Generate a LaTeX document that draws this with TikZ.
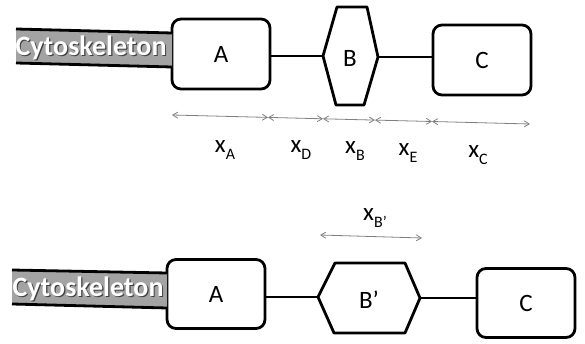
\documentclass[tikz,border=0pt]{standalone}
\usepackage{fontspec}
\setmainfont{Carlito}
\usetikzlibrary{arrows.meta}
% variable with a lowered subscript, e.g. \varsub{x}{A}
\newcommand\varsub[2]{#1\raisebox{-0.55ex}{\fontsize{16}{16}\selectfont #2}}
\begin{document}
\begin{tikzpicture}[x=1pt,y=-1pt,
  box/.style={draw, line width=2.8pt, rounded corners=9pt, fill=white,
    minimum width=98pt, minimum height=70pt, inner sep=0pt,
    font=\fontsize{25}{28}\selectfont},
  link/.style={line width=2.8pt},
  hexa/.style={draw, line width=2.8pt, fill=white, line join=round},
  barfill/.style={fill=black!36},
  barline/.style={line width=2.8pt},
  cytotext/.style={font=\fontsize{28}{30}\selectfont\bfseries, text=white, inner sep=0pt},
  cytoshadow/.style={font=\fontsize{28}{30}\selectfont\bfseries, text=black!75, inner sep=0pt},
  dim/.style={draw=black!50, line width=0.8pt,
    {Straight Barb[length=5pt,width=6pt]}-{Straight Barb[length=5pt,width=6pt]}},
  lab/.style={font=\fontsize{25}{28}\selectfont, inner sep=0pt},
  txt/.style={font=\fontsize{25}{28}\selectfont, inner sep=0pt}
]
\useasboundingbox (0,0) rectangle (585,344);

% ---------------- upper chain ----------------
\node[box] (A1) at (221,54) {A};
\node[box, minimum height=70pt] (C1) at (482,60) {C};

% hexagon B
\coordinate (B1w)  at (323,56);
\coordinate (B1nw) at (337,7);
\coordinate (B1ne) at (367,7);
\coordinate (B1e)  at (378,57);
\coordinate (B1se) at (364,105);
\coordinate (B1sw) at (336,105);
\draw[hexa] (B1w) -- (B1nw) -- (B1ne) -- (B1e) -- (B1se) -- (B1sw) -- cycle;
\node[txt] (B1) at (350,58) {B};

% cytoskeleton bar
\coordinate (S1tl) at (16,29);
\coordinate (S1tr) at (172,33);
\coordinate (S1br) at (172,67);
\coordinate (S1bl) at (16,63);
\fill[barfill] (S1tl) -- (S1tr) -- (S1br) -- (S1bl) -- cycle;
\draw[barline] (S1tl) -- (S1tr);
\draw[barline] (S1bl) -- (S1br);
\node[cytoshadow] (S1s) at (92.2,49.2) {Cytoskeleton};
\node[cytotext] (S1) at (91,48) {Cytoskeleton};

% links
\draw[link] (A1.east |- B1w) -- (B1w);
\draw[link] (B1e) -- (B1e -| C1.west);

% extents along the chain
\coordinate (d0) at (172,115);
\coordinate (d1) at (268,117.4);
\coordinate (d2) at (323,118.8);
\coordinate (d3) at (375,120.1);
\coordinate (d4) at (432,121.5);
\coordinate (d5) at (530,124);
\draw[dim] (d0) -- (d1);
\draw[dim] (d1) -- (d2);
\draw[dim] (d2) -- (d3);
\draw[dim] (d3) -- (d4);
\draw[dim] (d4) -- (d5);

\node[lab] (xA) at (225,150) {\varsub{x}{A}};
\node[lab] (xD) at (301,150) {\varsub{x}{D}};
\node[lab] (xB) at (355,151) {\varsub{x}{B}};
\node[lab] (xE) at (408,153) {\varsub{x}{E}};
\node[lab] (xC) at (478,155) {\varsub{x}{C}};

% ---------------- lower chain ----------------
\node[box, minimum height=69pt] (A2) at (216,294) {A};
\node[box, minimum height=69pt] (C2) at (526,303) {C};

% hexagon B'
\coordinate (B2w)  at (318,297);
\coordinate (B2nw) at (335,263);
\coordinate (B2ne) at (405,263);
\coordinate (B2e)  at (420,298);
\coordinate (B2se) at (405,333);
\coordinate (B2sw) at (334,333);
\draw[hexa] (B2w) -- (B2nw) -- (B2ne) -- (B2e) -- (B2se) -- (B2sw) -- cycle;
\node[txt] (B2) at (369,300) {B'};

% cytoskeleton bar
\coordinate (S2tl) at (12,270);
\coordinate (S2tr) at (167,273);
\coordinate (S2br) at (167,308);
\coordinate (S2bl) at (12,304);
\fill[barfill] (S2tl) -- (S2tr) -- (S2br) -- (S2bl) -- cycle;
\draw[barline] (S2tl) -- (S2tr);
\draw[barline] (S2bl) -- (S2br);
\node[cytoshadow] (S2s) at (89.2,290.2) {Cytoskeleton};
\node[cytotext] (S2) at (88,289) {Cytoskeleton};

% links
\draw[link] (A2.east |- B2w) -- (B2w);
\draw[link] (B2e) -- (B2e -| C2.west);

% extent of B'
\coordinate (e0) at (320,235);
\coordinate (e1) at (422,238);
\draw[dim] (e0) -- (e1);
\node[lab] (xBp) at (375,218) {\varsub{x}{B'}};

\end{tikzpicture}
\end{document}
